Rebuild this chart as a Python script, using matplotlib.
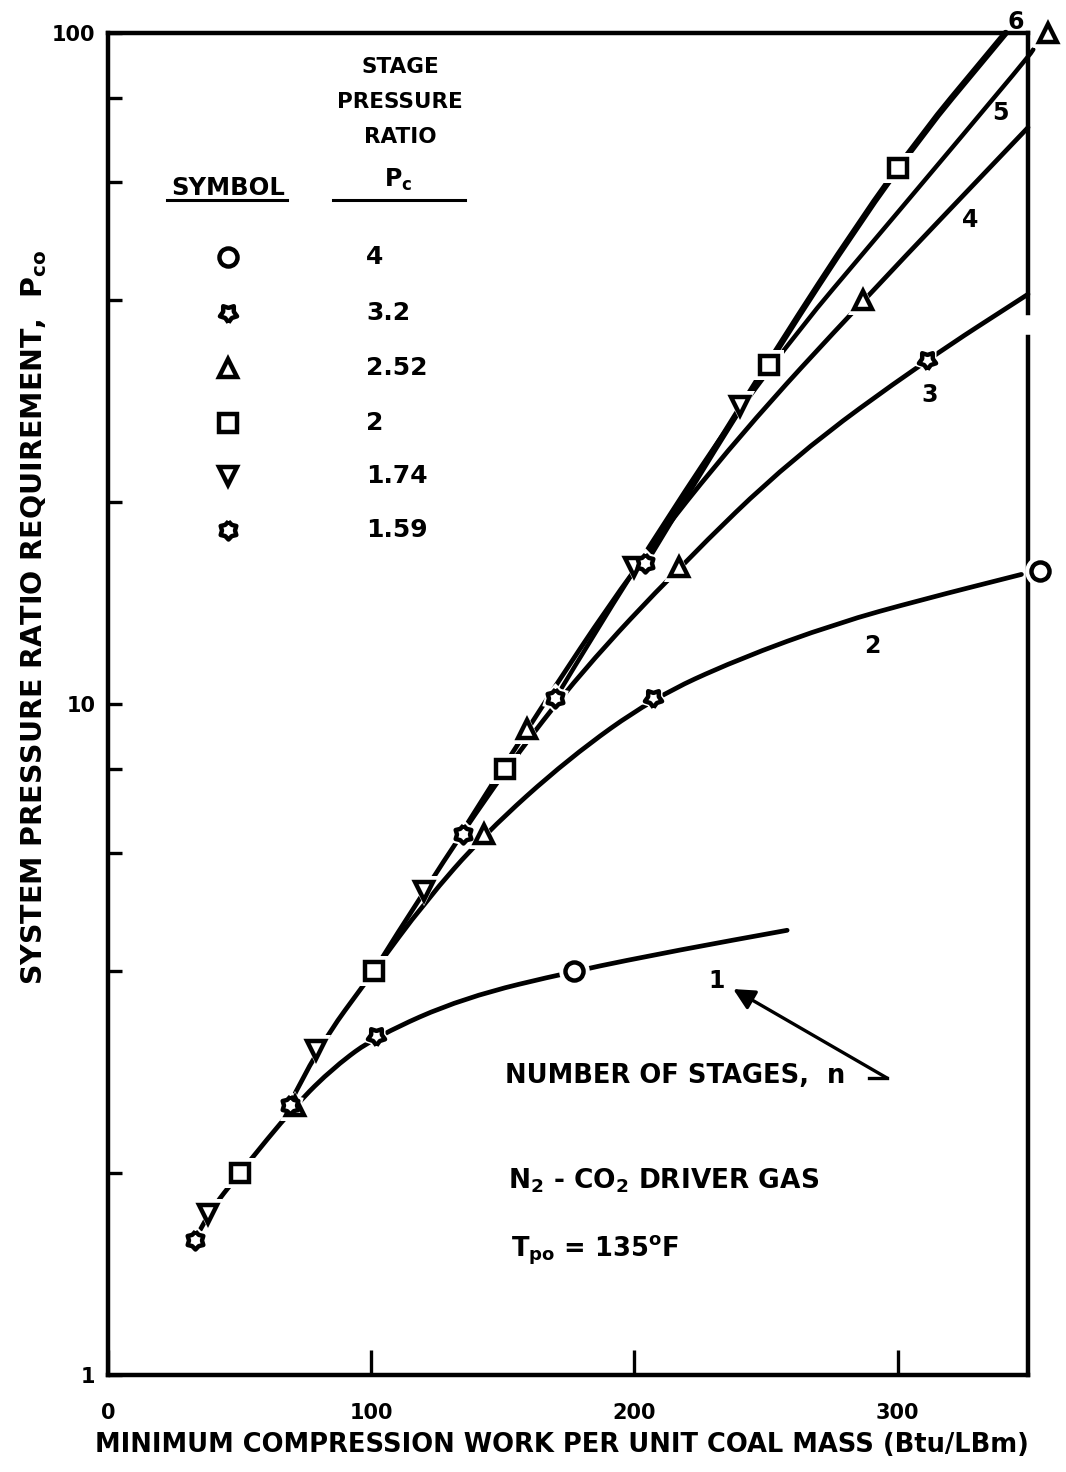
import numpy as np
import matplotlib
matplotlib.use("Agg")
import matplotlib.pyplot as plt
from matplotlib import font_manager
from matplotlib.lines import Line2D
from matplotlib.path import Path
from matplotlib.patches import PathPatch

# ---- data ----
# curves, one per number of stages n
c1_x = [33, 38, 50, 71, 86, 102, 135, 177, 217, 258]
c1_y = [1.59, 1.74, 2.0, 2.52, 2.88, 3.2, 3.65, 4.0, 4.3, 4.6]
c2_x = [69, 79, 101, 120, 143, 175, 207, 239, 277, 309, 347]
c2_y = [2.53, 3.05, 4.0, 5.05, 6.4, 8.3, 10.2, 11.65, 13.2, 14.3, 15.6]
c3_x = [101, 120, 151, 180, 217, 260, 311, 349.5]
c3_y = [4.0, 5.27, 8.0, 11.2, 16.0, 23.3, 32.6, 40.8]
c4_x = [134, 159, 200, 240, 287, 349.5]
c4_y = [6.4, 9.17, 16.0, 25.2, 40.0, 72.3]
c5_x = [170, 200, 251, 300, 349.5, 351.5]
c5_y = [10.2, 16.0, 32.0, 54.0, 92.0, 94.5]
c6_x = [204, 240, 300, 341]
c6_y = [16.2, 27.8, 64.0, 100.0]

# symbols, one per stage pressure ratio
circ_x = [177, 354]
circ_y = [4.0, 15.8]
pent_x = [102, 207, 311]
pent_y = [3.2, 10.2, 32.6]
tri_x = [71, 143, 159, 217, 287, 357]
tri_y = [2.52, 6.4, 9.17, 16.0, 40.0, 100.0]
sq_x = [50, 101, 151, 251, 300]
sq_y = [2.0, 4.0, 8.0, 32.0, 63.0]
tdn_x = [38, 79, 120, 200, 240]
tdn_y = [1.74, 3.05, 5.27, 16.0, 27.8]
flw_x = [33, 69, 135, 170, 204]
flw_y = [1.59, 2.53, 6.4, 10.2, 16.2]

legend_vals = ["4", "3.2", "2.52", "2", "1.74", "1.59"]
curve_names = ["1", "2", "3", "4", "5", "6"]

# ---- fonts ----
names = {f.name for f in font_manager.fontManager.ttflist}
if "Liberation Sans Narrow" in names:
    FONT, k = "Liberation Sans Narrow", 1.3
else:
    FONT, k = "DejaVu Sans", 1.0
plt.rcParams["font.family"] = [FONT, "DejaVu Sans"]
plt.rcParams["font.weight"] = "bold"
plt.rcParams["mathtext.default"] = "regular"

def star(n, inner, rot=0.0):
    ang = np.linspace(0, 2 * np.pi, 2 * n, endpoint=False) + rot
    r = np.where(np.arange(2 * n) % 2 == 0, 1.0, inner)
    v = np.column_stack([r * np.sin(ang), r * np.cos(ang)])
    return np.vstack([v, v[:1]])

PENT = star(5, 0.62, np.pi)
FLOWER = star(6, 0.72)

def smooth(xs, ys):
    # quadratic bezier through the midpoints, read points as control points
    verts = [(xs[0], ys[0])]
    codes = [Path.MOVETO]
    for i in range(1, len(xs) - 1):
        mid = ((xs[i] + xs[i + 1]) / 2, np.sqrt(ys[i] * ys[i + 1]))
        verts += [(xs[i], ys[i]), mid]
        codes += [Path.CURVE3, Path.CURVE3]
    verts.append((xs[-1], ys[-1]))
    codes.append(Path.LINETO)
    return Path(verts, codes)

W, H = 1066, 1472
fig = plt.figure(figsize=(W / 100, H / 100), dpi=100)
L, R, T, B = 108, 1028, 33, 1375
ax = fig.add_axes([L / W, 1 - B / H, (R - L) / W, (B - T) / H])

def fxy(px, py):
    return px / W, 1 - py / H

ax.set_yscale("log")
ax.set_xlim(0, 349.5)
ax.set_ylim(1, 100)

for cx, cy, lw in [(c1_x, c1_y, 3.4), (c2_x, c2_y, 3.4), (c3_x, c3_y, 3.4),
                   (c4_x, c4_y, 3.4), (c5_x, c5_y, 3.2), (c6_x, c6_y, 4.6)]:
    ax.add_patch(PathPatch(smooth(cx, cy), fill=False, edgecolor="black", lw=lw,
                           capstyle="round", zorder=2, clip_on=False))

symbols = [(circ_x, circ_y, "o"), (pent_x, pent_y, PENT), (tri_x, tri_y, "^"),
           (sq_x, sq_y, "s"), (tdn_x, tdn_y, "v"), (flw_x, flw_y, FLOWER)]
for sx, sy, m in symbols:
    # white halo that breaks the lines at the symbols
    ax.plot(sx, sy, ls="none", marker=m, ms=22, mfc="white", mec="white", mew=0,
            zorder=3, clip_on=False)
for sx, sy, m in symbols:
    ax.plot(sx, sy, ls="none", marker=m, ms=13, mfc="white", mec="black", mew=3.2,
            zorder=4, clip_on=False)

# spines and ticks
for s in ["left", "bottom", "top"]:
    ax.spines[s].set_linewidth(3.2)
ax.spines["right"].set_visible(False)
ax.plot([1, 1], [0, 0.7735], transform=ax.transAxes, color="black", lw=3.2, clip_on=False)
ax.plot([1, 1], [0.7914, 1], transform=ax.transAxes, color="black", lw=3.2, clip_on=False)

ax.set_xticks([0, 100, 200, 300])
ax.set_xticklabels(["0", "100", "200", "300"])
ax.set_yticks([1, 10, 100])
ax.set_yticklabels(["1", "10", "100"])
ax.set_yticks([2, 4, 6, 8, 20, 40, 60, 80], minor=True)
ax.yaxis.set_minor_formatter(matplotlib.ticker.NullFormatter())
ax.xaxis.set_minor_locator(matplotlib.ticker.NullLocator())
ax.tick_params(axis="x", direction="in", length=18, width=2.4, pad=20,
               labelsize=15 * k)
ax.tick_params(axis="y", which="both", direction="in", length=10, width=2.4, pad=9,
               labelsize=15 * k)

fig.text(*fxy(562, 1445), "MINIMUM COMPRESSION WORK PER UNIT COAL MASS (Btu/LBm)",
         ha="center", va="center", fontsize=18.5 * k)
fig.text(*fxy(34, 617), "SYSTEM PRESSURE RATIO REQUIREMENT,  P$_{co}$",
         ha="center", va="center", rotation=90, fontsize=20.5 * k)

# symbol table
for txt, py in [("STAGE", 67), ("PRESSURE", 102), ("RATIO", 137)]:
    fig.text(*fxy(400, py), txt, ha="center", va="center", fontsize=15.5 * k)
fig.text(*fxy(398, 180), "P$_c$", ha="center", va="center", fontsize=17 * k)
fig.text(*fxy(228, 188), "SYMBOL", ha="center", va="center", fontsize=17.5 * k)
fig.add_artist(Line2D([167 / W, 287 / W], [1 - 200 / H] * 2, color="black", lw=2.2))
fig.add_artist(Line2D([333 / W, 465 / W], [1 - 200 / H] * 2, color="black", lw=2.2))
rows_y = [257, 313, 368, 423, 476, 530]
for (sx, sy, m), val, py in zip(symbols, legend_vals, rows_y):
    ax.plot([228 / W], [1 - py / H], transform=fig.transFigure, ls="none", marker=m,
            ms=13, mfc="white", mec="black", mew=3.2, clip_on=False)
    fig.text(*fxy(366, py), val, ha="left", va="center", fontsize=18 * k)

# curve labels
for name, (lx, ly) in zip(curve_names, [(231, 3.87), (290.5, 12.2), (312, 28.9),
                                       (327.7, 52.7), (339, 76), (344.7, 104)]):
    ax.text(lx, ly, name, ha="center", va="center", fontsize=17 * k, clip_on=False)

ax.text(151, 2.79, "NUMBER OF STAGES,  n", ha="left", va="center", fontsize=18.5 * k)
ax.plot([289, 296], [2.77, 2.77], color="black", lw=2.4)
ax.annotate("", xy=(237.5, 3.76), xytext=(296, 2.77),
            arrowprops=dict(arrowstyle="-|>", lw=2.4, color="black", mutation_scale=32,
                            shrinkA=0, shrinkB=0))
ax.text(152, 1.95, "N$_2$ - CO$_2$ DRIVER GAS", ha="left", va="center", fontsize=19 * k)
ax.text(153, 1.535, "T$_{po}$ = 135$^{o}$F", ha="left", va="center", fontsize=18.5 * k)

fig.savefig("out.png", dpi=100, facecolor="white")
